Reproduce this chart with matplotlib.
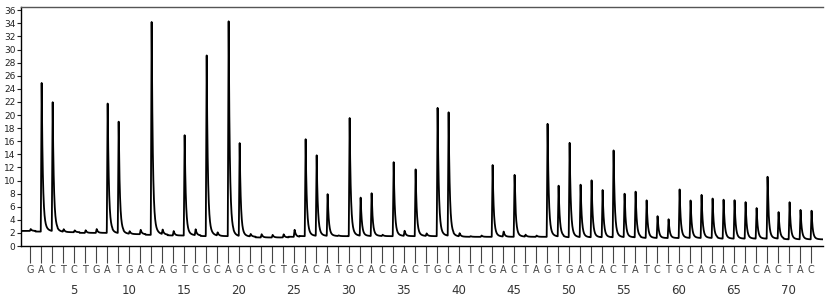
import numpy as np
import matplotlib
matplotlib.use("Agg")
import matplotlib.pyplot as plt
import matplotlib.transforms as mtransforms

# dispensation order (one letter per injected nucleotide)
dispensation = list("GACTCTGATGACAGTCGCAGCGCTGACATGCACGACTGCATCGACTAGTGACACTATCTGCAGACACACTAC")

# peak top for every dispensation
peak_height = [
    2.6, 25.5, 22.0, 2.5, 2.4, 2.4, 2.6, 22.7, 19.1, 2.2,
    2.5, 34.9, 2.4, 2.3, 17.4, 2.5, 29.9, 2.0, 34.5, 15.9,
    1.8, 1.8, 1.7, 1.8, 2.5, 16.4, 14.2, 8.1, 1.6, 20.0,
    7.6, 8.1, 1.7, 13.3, 2.3, 11.8, 1.9, 21.7, 20.4, 1.9,
    1.5, 1.6, 12.6, 2.2, 11.0, 1.7, 1.6, 19.1, 9.2, 16.2,
    9.6, 10.0, 8.7, 15.2, 8.0, 8.4, 7.2, 4.6, 4.1, 8.9,
    7.1, 7.8, 7.4, 7.3, 7.0, 6.8, 6.0, 10.7, 5.2, 6.9,
    5.6, 5.4,
]

# background level under each dispensation
baseline = [
    2.3, 2.2, 2.2, 2.1, 2.1, 2.0, 2.0, 2.0, 1.9, 1.8,
    1.8, 1.7, 1.7, 1.6, 1.6, 1.6, 1.5, 1.5, 1.5, 1.4,
    1.4, 1.3, 1.3, 1.3, 1.4, 1.5, 1.5, 1.5, 1.5, 1.5,
    1.5, 1.5, 1.5, 1.5, 1.5, 1.5, 1.5, 1.5, 1.5, 1.4,
    1.4, 1.4, 1.4, 1.4, 1.4, 1.4, 1.4, 1.4, 1.4, 1.3,
    1.3, 1.3, 1.3, 1.3, 1.3, 1.3, 1.2, 1.2, 1.2, 1.2,
    1.2, 1.2, 1.2, 1.1, 1.1, 1.1, 1.1, 1.1, 1.1, 1.0,
    1.0, 1.0,
]

number_ticks = list(range(5, 71, 5))

pos = np.arange(1, len(dispensation) + 1)
heights = np.array(peak_height)
base = np.array(baseline)


def peak_shape(d):
    # sharp light burst: quick rise, fast decay with a small slow tail
    out = np.zeros_like(d)
    rise = (d >= -0.02) & (d < 0.06)
    out[rise] = (d[rise] + 0.02) / 0.08
    fall = d >= 0.06
    t = d[fall] - 0.06
    out[fall] = 0.9 * np.exp(-t / 0.1) + 0.1 * np.exp(-t / 0.3)
    return out


x = np.linspace(0.18, 73.1, 8000)
slot = np.clip(np.round(x).astype(int), 1, len(pos)) - 1
trace = base[slot].copy()
for p, h, b in zip(pos, heights, base):
    trace += (h - b) * peak_shape(x - p)

fig = plt.figure(figsize=(8.25, 3.04), dpi=100)
ax = fig.add_axes([21 / 825, 58 / 304, 802 / 825, 239 / 304])

ax.plot(x, trace, color="black", lw=1.3)

ax.set_xlim(0.18, 73.1)
ax.set_ylim(0, 36.5)
ax.set_yticks(range(0, 37, 2))
ax.tick_params(axis="y", labelsize=6.5, length=3, width=0.8, pad=1, colors="#222222")

ax.set_xticks(pos)
ax.set_xticklabels(dispensation, fontsize=7, color="#444444")
ax.tick_params(axis="x", length=12, width=0.8, pad=2, colors="#444444")

# dispensation numbers under the letters
trans = mtransforms.blended_transform_factory(ax.transData, fig.transFigure)
for n in number_ticks:
    ax.text(n, 14 / 304, str(n), transform=trans, ha="center", va="center",
            fontsize=8.5, color="#333333")

ax.spines["right"].set_visible(False)
ax.spines["top"].set_color("#555555")
for s in ["left", "bottom", "top"]:
    ax.spines[s].set_linewidth(1.0)

fig.savefig("out.png", dpi=100)
